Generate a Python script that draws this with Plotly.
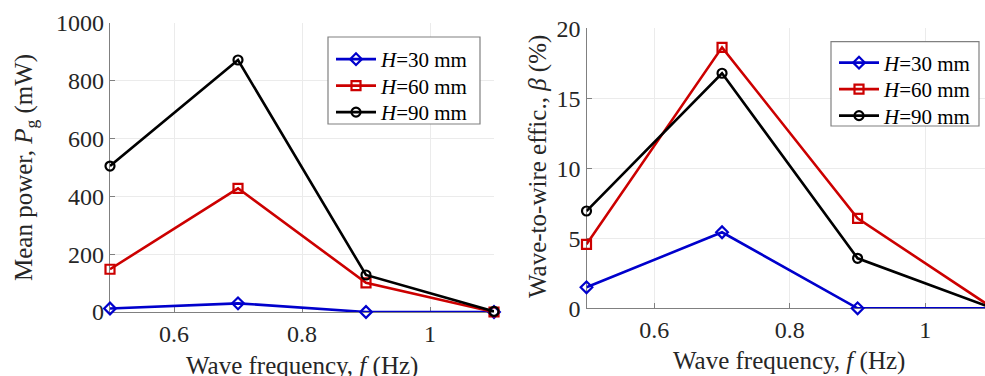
import plotly.graph_objects as go

freq = [0.5, 0.7, 0.9, 1.1]
power_h30 = [12, 30, 0, 0]
power_h60 = [148, 428, 101, 0]
power_h90 = [505, 872, 128, 2]
eff_h30 = [1.5, 5.43, 0, 0]
eff_h60 = [4.57, 18.64, 6.43, 0]
eff_h90 = [6.95, 16.79, 3.57, 0]
labels = ["<i>H</i>=30 mm", "<i>H</i>=60 mm", "<i>H</i>=90 mm"]
colors = ["#0000CC", "#CC0000", "#000000"]
symbols = ["diamond-open", "square-open", "circle-open"]
xtick_vals = [0.6, 0.8, 1.0]
xtick_text = ["0.6", "0.8", "1"]
ytick_power = [0, 200, 400, 600, 800, 1000]
ytick_eff = [0, 5, 10, 15, 20]

W, H = 985, 376
FONT = "Liberation Serif"
TXT = "#262626"

# one legend per entry so the row spacing can match the reference
left_legends = ["legend", "legend2", "legend3"]
right_legends = ["legend4", "legend5", "legend6"]
left_rows = [54, 80.5, 107]
right_rows = [57.5, 84, 110.5]

fig = go.Figure()
for i, ys in enumerate([power_h30, power_h60, power_h90]):
    fig.add_trace(go.Scatter(
        x=freq, y=ys, mode="lines+markers", name=labels[i],
        line=dict(color=colors[i], width=2.6),
        marker=dict(symbol=symbols[i], size=9, color=colors[i], line=dict(width=2.2, color=colors[i])),
        cliponaxis=False, xaxis="x", yaxis="y", legend=left_legends[i]))
for i, ys in enumerate([eff_h30, eff_h60, eff_h90]):
    fig.add_trace(go.Scatter(
        x=freq, y=ys, mode="lines+markers", name=labels[i],
        line=dict(color=colors[i], width=2.6),
        marker=dict(symbol=symbols[i], size=9, color=colors[i], line=dict(width=2.2, color=colors[i])),
        cliponaxis=False, xaxis="x2", yaxis="y2", legend=right_legends[i]))

def px_x(p):
    return p / W

def px_y(p):
    return 1 - p / H

axis_common = dict(
    showgrid=True, gridcolor="#EBEBEB", gridwidth=1,
    showline=True, linecolor="#808080", linewidth=1.2,
    ticks="inside", ticklen=5, tickcolor="#808080", tickwidth=1,
    zeroline=False, tickfont=dict(family=FONT, size=24, color=TXT),
    layer="below traces", automargin=False,
)

legend_common = dict(
    xanchor="left", yanchor="top", bgcolor="rgba(0,0,0,0)", borderwidth=0,
    font=dict(family=FONT, size=21, color="#000000"),
    tracegroupgap=0, itemwidth=40,
)

legends = {}
for name, row in zip(left_legends, left_rows):
    legends[name] = dict(x=px_x(331), y=px_y(row - 15), **legend_common)
for name, row in zip(right_legends, right_rows):
    legends[name] = dict(x=px_x(834), y=px_y(row - 15), **legend_common)

fig.update_layout(
    width=W, height=H, margin=dict(l=0, r=0, t=0, b=0, autoexpand=False),
    paper_bgcolor="white", plot_bgcolor="white",
    font=dict(family=FONT, color=TXT),
    xaxis=dict(domain=[px_x(110), px_x(494)], range=[0.5, 1.1], anchor="y",
               tickvals=xtick_vals, ticktext=xtick_text, **axis_common),
    yaxis=dict(domain=[px_y(312), px_y(23)], range=[0, 1000], anchor="x",
               tickvals=ytick_power, **axis_common),
    xaxis2=dict(domain=[px_x(586.5), 1.0], range=[0.5, 1.088], anchor="y2",
                tickvals=xtick_vals, ticktext=xtick_text, **axis_common),
    yaxis2=dict(domain=[px_y(308.3), px_y(28.3)], range=[0, 20], anchor="x2",
                tickvals=ytick_eff, **axis_common),
    showlegend=True,
    **legends,
)

# legend boxes
fig.add_shape(type="rect", xref="paper", yref="paper",
              x0=px_x(328), x1=px_x(480), y0=px_y(124), y1=px_y(37),
              fillcolor="white", line=dict(color="#808080", width=1.2), layer="above")
fig.add_shape(type="rect", xref="paper", yref="paper",
              x0=px_x(831), x1=px_x(979), y0=px_y(126), y1=px_y(41.7),
              fillcolor="white", line=dict(color="#808080", width=1.2), layer="above")

fig.add_annotation(text="Mean power, <i>P</i><sub>g</sub> (mW)", textangle=-90,
                   x=px_x(25), y=px_y(168), xref="paper", yref="paper",
                   xanchor="center", yanchor="middle",
                   showarrow=False, font=dict(family=FONT, size=25, color=TXT))
fig.add_annotation(text="Wave frequency, <i>f</i> (Hz)",
                   x=px_x(302), y=px_y(366), xref="paper", yref="paper",
                   xanchor="center", yanchor="middle",
                   showarrow=False, font=dict(family=FONT, size=25, color=TXT))
fig.add_annotation(text="Wave-to-wire effic., <i>β</i> (%)", textangle=-90,
                   x=px_x(538), y=px_y(167), xref="paper", yref="paper",
                   xanchor="center", yanchor="middle",
                   showarrow=False, font=dict(family=FONT, size=25, color=TXT))
fig.add_annotation(text="Wave frequency, <i>f</i> (Hz)",
                   x=px_x(789), y=px_y(361), xref="paper", yref="paper",
                   xanchor="center", yanchor="middle",
                   showarrow=False, font=dict(family=FONT, size=25, color=TXT))

fig.write_html("out.html")
